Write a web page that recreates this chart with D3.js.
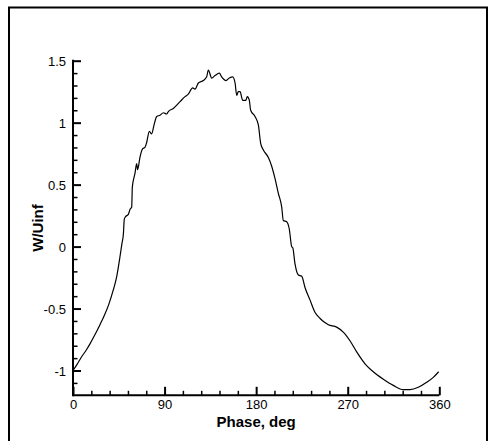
<!DOCTYPE html>
<html><head><meta charset="utf-8">
<script src="https://cdn.jsdelivr.net/npm/d3@7"></script>
<style>
html,body{margin:0;padding:0;background:#fff;}
svg{display:block;}
text{font-family:"Liberation Sans",Arial,Helvetica,sans-serif;fill:#000;}
</style></head>
<body>
<script>
const phase = [0,4,8,13.4,16.7,21,26.5,30,35,39.6,43,46.2,48,49.5,50.4,51.5,54.4,56,57.7,58.3,60.9,62.6,63.5,65.8,68.5,70.7,72.4,75,77.3,79.6,82.3,85.5,88.8,92,93.7,98.6,105.2,110.1,113.3,117.6,119.9,123.2,128.1,131.4,133,136.3,139.6,143.8,146.1,150.4,153.6,157,159.3,160.9,162.5,164.2,166.8,169.8,171.3,173.3,174.6,178.9,182.2,184.5,187.1,191.9,195.2,198.5,201.8,205.1,206.7,210,212.6,214.9,216,218.2,221.5,224.8,228,232.9,237.8,242.8,250.9,259.1,265.6,272.2,278.8,287,295.1,305,314.8,324.6,331.2,339.4,347.6,354.1,359.4];
const wUinf = [-1.0,-0.95,-0.895,-0.83,-0.785,-0.72,-0.63,-0.57,-0.47,-0.35,-0.24,-0.08,0.02,0.10,0.22,0.24,0.26,0.30,0.32,0.48,0.59,0.67,0.62,0.72,0.79,0.80,0.84,0.93,0.91,0.98,1.05,1.06,1.08,1.07,1.09,1.115,1.17,1.21,1.23,1.28,1.27,1.32,1.34,1.37,1.425,1.36,1.38,1.40,1.37,1.34,1.36,1.37,1.32,1.22,1.25,1.25,1.18,1.18,1.21,1.18,1.10,1.05,0.98,0.83,0.78,0.72,0.65,0.55,0.43,0.32,0.21,0.20,0.14,0.0,-0.01,-0.14,-0.23,-0.24,-0.33,-0.43,-0.53,-0.58,-0.63,-0.65,-0.69,-0.76,-0.85,-0.946,-1.01,-1.07,-1.12,-1.154,-1.154,-1.135,-1.095,-1.055,-1.01];
const xMajorTicks = [0,90,180,270,360];
const xMinorTicks = [18,36,54,72,108,126,144,162,198,216,234,252,288,306,324,342];
const yMajorTicks = [-1,-0.5,0,0.5,1,1.5];
const yMinorTicks = [-1.1,-0.9,-0.8,-0.7,-0.6,-0.4,-0.3,-0.2,-0.1,0.1,0.2,0.3,0.4,0.6,0.7,0.8,0.9,1.1,1.2,1.3,1.4];
const xTitle = "Phase, deg";
const yTitle = "W/Uinf";

const W = 489, H = 441;
const svg = d3.select("body").append("svg").attr("width", W).attr("height", H);

// outer frame
svg.append("rect").attr("x", 9).attr("y", 7.5).attr("width", 478).attr("height", 450)
  .attr("fill", "none").attr("stroke", "#000").attr("stroke-width", 2);

const x = d3.scaleLinear().domain([0, 360]).range([73, 439.3]);
const y = d3.scaleLinear().domain([-1.2, 1.5]).range([395.3, 60.7]);

const fmtY = v => (v === 0 ? "0" : String(v));

// minor ticks
svg.append("g").attr("transform", `translate(0,${y(-1.2)})`)
  .call(d3.axisBottom(x).tickValues(xMinorTicks).tickSize(-4.5).tickSizeOuter(0).tickFormat(""))
  .call(g => g.select(".domain").remove())
  .call(g => g.selectAll("line").attr("stroke-width", 1.5));
svg.append("g").attr("transform", `translate(${x(0)},0)`)
  .call(d3.axisLeft(y).tickValues(yMinorTicks).tickSize(-4.5).tickSizeOuter(0).tickFormat(""))
  .call(g => g.select(".domain").remove())
  .call(g => g.selectAll("line").attr("stroke-width", 1.5));

// major axes
const gx = svg.append("g").attr("transform", `translate(0,${y(-1.2)})`)
  .call(d3.axisBottom(x).tickValues(xMajorTicks).tickSize(-8.5).tickSizeOuter(0).tickFormat(d => String(d)));
gx.select(".domain").attr("stroke-width", 2).attr("d", `M${x(0)},0H${x(360)}`);
gx.selectAll("line").attr("stroke-width", 2);
gx.selectAll("text").attr("font-size", 13).attr("y", 14).attr("dy", 0)
  .attr("font-family", "'Liberation Sans', Arial, sans-serif");

const gy = svg.append("g").attr("transform", `translate(${x(0)},0)`)
  .call(d3.axisLeft(y).tickValues(yMajorTicks).tickSize(-8).tickSizeOuter(0).tickFormat(fmtY));
gy.select(".domain").attr("stroke-width", 2).attr("d", `M0,${y(1.5)-1}V${y(-1.2)+1}`);
gy.selectAll("line").attr("stroke-width", 2);
gy.selectAll("text").attr("font-size", 13).attr("x", -7).attr("dy", "0.35em")
  .attr("font-family", "'Liberation Sans', Arial, sans-serif");

// curve
const line = d3.line().x((d, i) => x(phase[i])).y(d => y(d)).curve(d3.curveMonotoneX);
svg.append("path").datum(wUinf).attr("d", line)
  .attr("fill", "none").attr("stroke", "#000").attr("stroke-width", 1.2).attr("stroke-linejoin", "round");

// titles
svg.append("text").attr("x", (x(0) + x(360)) / 2).attr("y", 426.5)
  .attr("text-anchor", "middle").attr("font-weight", "bold").attr("font-size", 15).text(xTitle);
svg.append("text").attr("transform", `translate(43,${228}) rotate(-90)`)
  .attr("text-anchor", "middle").attr("font-weight", "bold").attr("font-size", 15).text(yTitle);
</script>
</body></html>
